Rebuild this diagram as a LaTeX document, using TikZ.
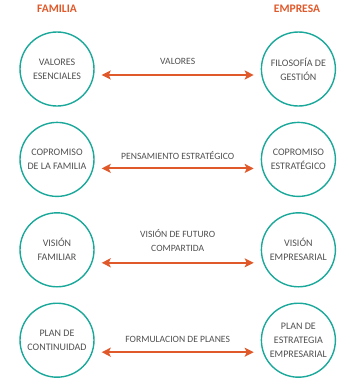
\documentclass[tikz,border=0pt]{standalone}
\usepackage{fontspec}
\setmainfont{Carlito}
\usepackage{xcolor}
\usetikzlibrary{arrows.meta,positioning}
\definecolor{teal1}{HTML}{1AA89A}
\definecolor{naranja}{HTML}{E0592A}
\definecolor{gris}{HTML}{505050}

\begin{document}
\begin{tikzpicture}[x=1pt,y=1pt,
  c/.style={draw=teal1,circle,line width=1.4pt,minimum size=74pt,inner sep=0pt,
    align=center,text=gris,font=\fontsize{10}{14}\selectfont},
  h/.style={text=naranja,font=\fontsize{11.5}{12}\selectfont\bfseries},
  f/.style={{Stealth[length=9pt,width=9pt,inset=2pt]}-{Stealth[length=9pt,width=9pt,inset=2pt]},
    draw=naranja,line width=2pt},
  lab/.style={align=center,text=gris,font=\fontsize{9.6}{14}\selectfont,inner sep=1pt}]
\useasboundingbox (0,0) rectangle (350,-384);
\node[h] (fam) at (57,-9) {FAMILIA};
\node[h] (emp) at (297,-9) {EMPRESA};
\node[c] (valores) at (57,-69) {VALORES\\ESENCIALES};
\node[c,right=166pt of valores] (filosofia) {FILOSOFÍA DE\\GESTIÓN};
\node[c,below=15pt of valores] (compfam) {COPROMISO\\DE LA FAMILIA};
\node[c,right=166pt of compfam] (compest) {COPROMISO\\ESTRATÉGICO};
\node[c,below=15pt of compfam] (visfam) {VISIÓN\\FAMILIAR};
\node[c,right=166pt of visfam] (visemp) {VISIÓN\\EMPRESARIAL};
\node[c,below=15pt of visfam] (planfam) {PLAN DE\\CONTINUIDAD};
\node[c,right=166pt of planfam] (planemp) {PLAN DE\\ESTRATEGIA\\EMPRESARIAL};
% conectores
\draw[f] ([xshift=7pt,yshift=-6pt]valores.east) -- node[lab,above=8pt]{VALORES} ([xshift=-7pt,yshift=-6pt]filosofia.west);
\draw[f] ([xshift=7pt,yshift=-9pt]compfam.east) -- node[lab,above=7pt]{PENSAMIENTO ESTRATÉGICO} ([xshift=-7pt,yshift=-9pt]compest.west);
\draw[f] ([xshift=7pt,yshift=-13pt]visfam.east) -- node[lab,above=9pt]{VISIÓN DE FUTURO\\COMPARTIDA} ([xshift=-7pt,yshift=-13pt]visemp.west);
\draw[f] ([xshift=7pt,yshift=-12pt]planfam.east) -- node[lab,above=8pt]{FORMULACION DE PLANES} ([xshift=-7pt,yshift=-12pt]planemp.west);
\end{tikzpicture}
\end{document}
